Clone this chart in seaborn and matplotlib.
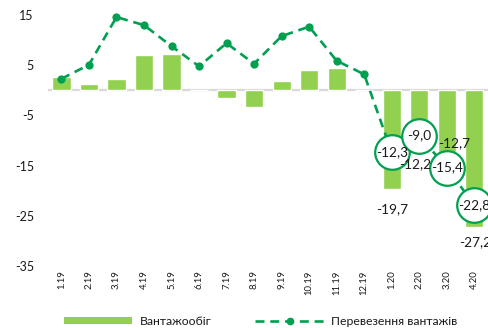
import matplotlib
matplotlib.use("Agg")
import matplotlib.pyplot as plt
import seaborn as sns
import pandas as pd
from matplotlib.patches import Patch
from matplotlib.lines import Line2D

# Monthly indices, % year over year
months = ["1.19", "2.19", "3.19", "4.19", "5.19", "6.19", "7.19", "8.19",
          "9.19", "10.19", "11.19", "12.19", "1.20", "2.20", "3.20", "4.20"]
turnover = [2.7, 1.2, 2.2, 7.0, 7.2, 0.0, -1.5, -3.4,
            1.8, 4.1, 4.4, 0.0, -19.7, -12.2, -12.7, -27.2]
shipments = [2.3, 5.1, 14.6, 13.0, 8.8, 4.8, 9.4, 5.3,
             10.8, 12.7, 5.9, 3.2, -12.3, -9.0, -15.4, -22.8]
labelled_months = ["1.20", "2.20", "3.20", "4.20"]
y_ticks = [15, 5, -5, -15, -25, -35]

bar_name = "Вантажообіг"
line_name = "Перевезення вантажів"

BAR_COLOR = "#92D050"
LINE_COLOR = "#00A050"

sns.set_theme(style="white")
plt.rcParams["font.family"] = ["Lato", "DejaVu Sans"]
plt.rcParams["axes.unicode_minus"] = False

df = pd.DataFrame({"month": months, "turnover": turnover, "shipments": shipments})

fig = plt.figure(figsize=(4.88, 3.28), dpi=100)
ax = fig.add_axes([0.0977, 0.189, 0.9023, 0.765])

ax.axhline(0, color="#d9d9d9", lw=1.6, zorder=0.5)

sns.barplot(data=df, x="month", y="turnover", order=months, color=BAR_COLOR,
            saturation=1, width=0.66, ax=ax, zorder=1)

sns.pointplot(data=df, x="month", y="shipments", order=months, color=LINE_COLOR,
              marker="o", markersize=4.5, linestyle="--", linewidth=1.9,
              errorbar=None, ax=ax)
for ln in ax.lines[1:]:
    ln.set_dashes((3.4, 2.2))
    ln.set_zorder(3)
    ln.set_clip_on(False)


def fmt(v):
    return f"{v:.1f}".replace(".", ",")


# Circled labels on the line for the latest months
for m in labelled_months:
    i = months.index(m)
    v = shipments[i]
    ax.scatter([i], [v], s=620, facecolor="white", edgecolor=LINE_COLOR,
               linewidth=1.6, zorder=5, clip_on=False)
    ax.annotate(fmt(v), (i, v), ha="center", va="center", fontsize=9.8,
                color="#1a1a1a", zorder=6)

# Bar value labels, nudged clear of the circles
bar_offsets = {"1.20": (0, -14.2), "2.20": (-2.6, -9.4),
               "3.20": (5.4, 7.9), "4.20": (0.7, -10.8)}
for m in labelled_months:
    i = months.index(m)
    v = turnover[i]
    dx, dy = bar_offsets[m]
    ax.annotate(fmt(v), (i, v), xytext=(dx, dy), textcoords="offset points",
                ha="center", va="center", fontsize=9.8, color="#1a1a1a", zorder=6)

ax.set_xlim(-0.5, len(months) - 0.5)
ax.set_ylim(-35, 15)
ax.set_yticks(y_ticks)
ax.set_yticklabels([str(t) for t in y_ticks])
ax.set_xlabel("")
ax.set_ylabel("")
ax.tick_params(axis="y", length=0, pad=9.9, labelsize=9, labelcolor="#1a1a1a")
ax.tick_params(axis="x", length=0, pad=3, labelsize=6.8, labelrotation=90,
               labelcolor="#1a1a1a")
sns.despine(ax=ax, left=True, bottom=True)

handles = [
    Patch(facecolor=BAR_COLOR, edgecolor="none", label=bar_name),
    Line2D([], [], color=LINE_COLOR, lw=1.9, linestyle=(0, (3.4, 2.2)),
           marker="o", markersize=4.5, label=line_name),
]
fig.legend(handles=handles, loc="center", bbox_to_anchor=(0.534, 0.021),
           ncol=2, frameon=False, fontsize=8.8, handlelength=5.6,
           handleheight=0.55, handletextpad=0.6, columnspacing=3.6,
           labelcolor="#1a1a1a")

fig.savefig("out.png", dpi=100)
